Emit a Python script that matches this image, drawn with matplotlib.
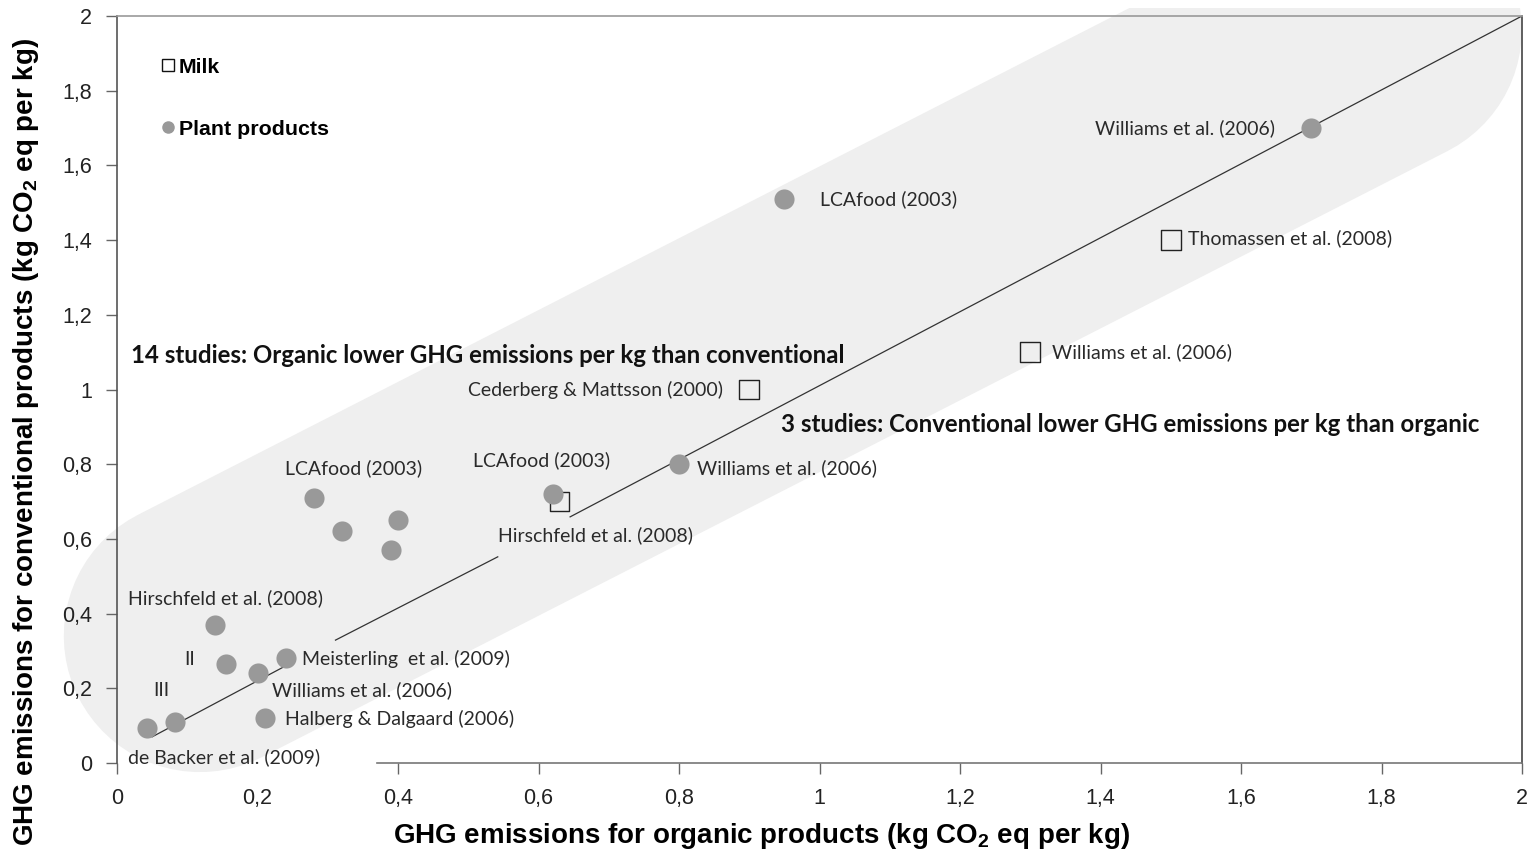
import matplotlib
matplotlib.use("Agg")
import matplotlib.pyplot as plt
from matplotlib.lines import Line2D
from matplotlib.patches import Rectangle

plt.rcParams['mathtext.fontset'] = 'custom'
plt.rcParams['mathtext.rm'] = 'Liberation Sans'
plt.rcParams['mathtext.bf'] = 'Liberation Sans:bold'

# plant products (organic, conventional)
plant_x = [1.70, 0.95, 0.80, 0.62, 0.28, 0.32, 0.40, 0.39, 0.14, 0.155, 0.20, 0.24, 0.21, 0.083, 0.043]
plant_y = [1.70, 1.51, 0.80, 0.72, 0.71, 0.62, 0.65, 0.57, 0.37, 0.265, 0.24, 0.28, 0.12, 0.11, 0.095]

# milk
milk_x = [1.50, 1.30, 0.90, 0.63]
milk_y = [1.40, 1.10, 1.00, 0.70]

tick_vals = [0, 0.2, 0.4, 0.6, 0.8, 1, 1.2, 1.4, 1.6, 1.8, 2]
tick_labels = ['0', '0,2', '0,4', '0,6', '0,8', '1', '1,2', '1,4', '1,6', '1,8', '2']

study_labels = ['Williams et al. (2006)', 'LCAfood (2003)', 'Thomassen et al. (2008)',
                'Williams et al. (2006)', 'Cederberg & Mattsson (2000)', 'LCAfood (2003)',
                'Williams et al. (2006)', 'Hirschfeld et al. (2008)', 'LCAfood (2003)',
                'Hirschfeld et al. (2008)', 'II', 'III', 'Meisterling  et al. (2009)',
                'Williams et al. (2006)', 'Halberg & Dalgaard (2006)', 'de Backer et al. (2009)']

# where the study labels sit (x, y, alignment)
label_pos = [(1.648, 1.70, 'right'), (1.0, 1.51, 'left'), (1.525, 1.405, 'left'),
             (1.331, 1.10, 'left'), (0.863, 1.0, 'right'), (0.507, 0.811, 'left'),
             (0.826, 0.79, 'left'), (0.542, 0.61, 'left'), (0.239, 0.79, 'left'),
             (0.016, 0.442, 'left'), (0.104, 0.276, 'center'), (0.063, 0.195, 'center'),
             (0.263, 0.278, 'left'), (0.221, 0.195, 'left'), (0.239, 0.118, 'left'),
             (0.016, 0.016, 'left')]

# 1:1 line, drawn in pieces around the labels
diag_segments = [([0.05, 0.25], [0.07, 0.27]),
                 ([0.311, 0.542], [0.329, 0.552]),
                 ([0.645, 2.0], [0.659, 2.0])]

# grey band behind the points
band_x = [0.118, 1.806]
band_y = [0.340, 1.963]

fig = plt.figure(figsize=(15.3, 8.52), dpi=100)
ax = fig.add_axes([117 / 1530, 89 / 852, 1405 / 1530, 747 / 852])

band, = ax.plot(band_x, band_y, color='#efefef', lw=196, solid_capstyle='round', zorder=0.5)
band.set_clip_path(Rectangle((-0.2, -0.06), 1.2, 1.071, transform=ax.transAxes))

for sx, sy in diag_segments:
    ax.plot(sx, sy, color='#333333', lw=0.9, zorder=2)

ax.scatter(milk_x, milk_y, marker='s', s=200, facecolor='none', edgecolor='#222222', linewidth=1, zorder=3)
ax.scatter(plant_x, plant_y, marker='o', s=210, color='#999999', linewidth=0, zorder=4)

for txt, (lx, ly, ha) in zip(study_labels, label_pos):
    ax.text(lx, ly, txt, ha=ha, va='center', fontsize=14, family='Lato', color='#2a2a2a', zorder=5)

ax.text(0.02, 1.092, '14 studies: Organic lower GHG emissions per kg than conventional',
        ha='left', va='center', fontsize=17.3, family='Lato', weight='bold', color='#111111')
ax.text(0.945, 0.905, '3 studies: Conventional lower GHG emissions per kg than organic',
        ha='left', va='center', fontsize=17.3, family='Lato', weight='bold', color='#111111')

ax.set_xlim(0, 2)
ax.set_ylim(0, 2)
ax.set_xticks(tick_vals)
ax.set_xticklabels(tick_labels)
ax.set_yticks(tick_vals)
ax.set_yticklabels(tick_labels)
ax.tick_params(length=8, width=1, color='#666666', labelsize=15.5, labelcolor='#222222', pad=10)
for lab in ax.get_xticklabels() + ax.get_yticklabels():
    lab.set_family('Liberation Sans')
ax.xaxis.get_major_ticks()[1].tick1line.set_visible(False)

ax.spines['left'].set_color('#555555')
ax.spines['right'].set_color('#444444')
ax.spines['top'].set_color('#999999')
ax.spines['bottom'].set_color('#777777')
ax.spines['bottom'].set_bounds(0.37, 2)
for s in ax.spines.values():
    s.set_linewidth(1.2)

ax.set_xlabel(r'GHG emissions for organic products (kg CO$_\mathbf{2}$ eq per kg)',
              fontsize=20, weight='bold', family='Liberation Sans')
ax.xaxis.set_label_coords(0.459, -0.078)
ax.set_ylabel(r'GHG emissions for conventional products (kg CO$_\mathbf{2}$ eq per kg)',
              fontsize=20, weight='bold', family='Liberation Sans')
ax.yaxis.label.set_ha('left')
ax.yaxis.set_label_coords(-0.054, -0.111)

milk_h = Line2D([], [], marker='s', ls='none', mfc='white', mec='#111111', ms=9, mew=1)
plant_h = Line2D([], [], marker='o', ls='none', mfc='#999999', mec='#999999', ms=8)
ax.legend([milk_h, plant_h], ['Milk', 'Plant products'], loc='upper left',
          bbox_to_anchor=(0.031, 0.944), frameon=False,
          prop=dict(family='Liberation Sans', weight='bold', size=15.4),
          handlelength=0.7, handletextpad=0.15, labelspacing=2.0, borderpad=0, borderaxespad=0)

fig.savefig('out.png', dpi=100)
